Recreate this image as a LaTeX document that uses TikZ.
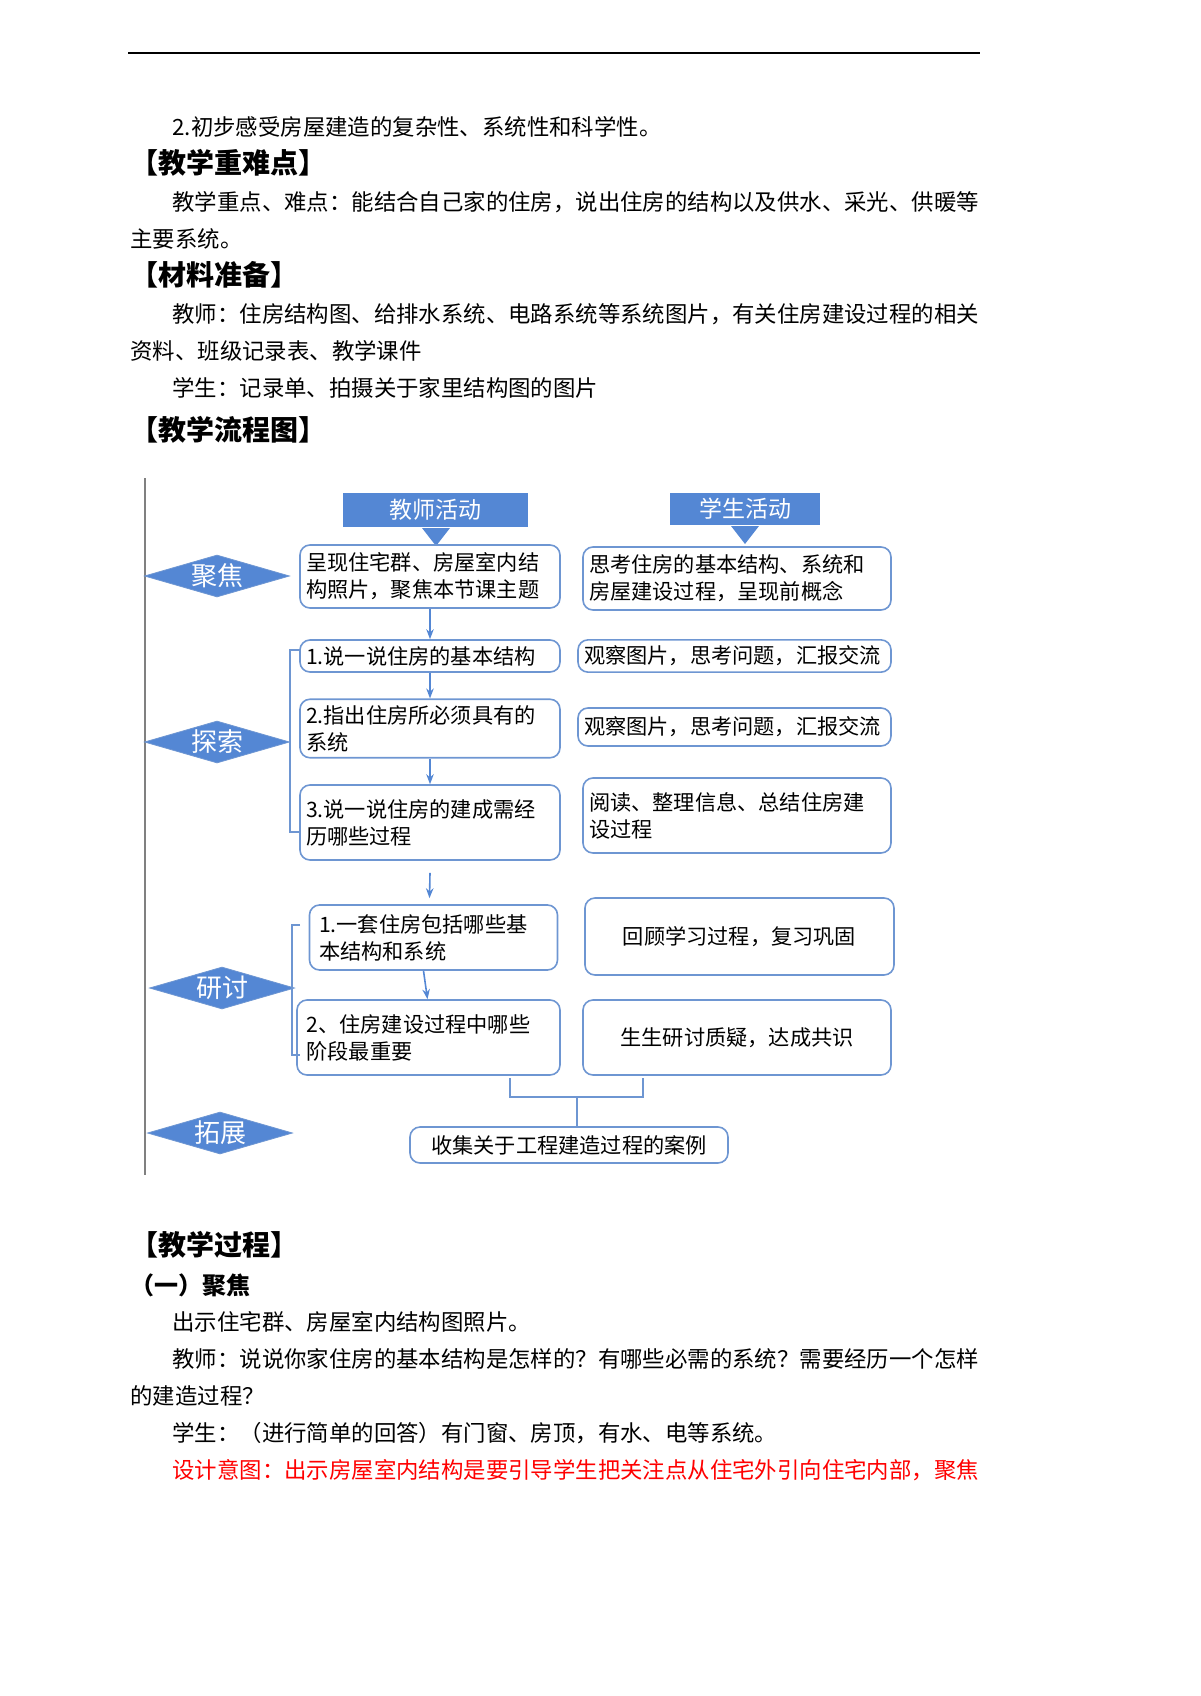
\documentclass[tikz,border=0pt]{standalone}
\usepackage{fontspec}
\setmainfont{Noto Sans CJK SC}
\usetikzlibrary{shapes.geometric,arrows.meta}
\definecolor{bblue}{RGB}{84,135,212}
\definecolor{lblue}{RGB}{110,150,210}
\begin{document}
\begin{tikzpicture}[x=0.5pt,y=-0.5pt,
    body/.style={anchor=west,inner sep=0pt,font=\fontsize{11.2}{13}\selectfont},
    head/.style={anchor=west,inner sep=0pt,font=\fontsize{14}{16}\selectfont\bfseries},
    box/.style={draw=lblue,thick,rounded corners=5pt,inner sep=3pt,align=left,
      font=\fontsize{10.6}{13.5}\selectfont},
    cbox/.style={box,align=center},
    tag/.style={fill=bblue,text=white,inner sep=0pt,font=\fontsize{11.5}{13}\selectfont},
    stage/.style={diamond,fill=bblue,draw=lblue,text=white,inner sep=0pt,aspect=3.4,
      minimum width=72.5pt,minimum height=21pt,font=\fontsize{13}{14}\selectfont},
    flow/.style={-{Stealth[length=5pt]},thick,bblue},
    brk/.style={thick,lblue}]
  \useasboundingbox (0,0) rectangle (1200,1696);
  % en-tête et texte
  \draw[thick] (128,53) -- (980,53);
  \node[body] (l1) at (172,127) {2.初步感受房屋建造的复杂性、系统性和科学性。};
  \node[head] (h1) at (130,163) {【教学重难点】};
  \node[body] (l2) at (172,202) {教学重点、难点：能结合自己家的住房，说出住房的结构以及供水、采光、供暖等};
  \node[body] (l3) at (130,239) {主要系统。};
  \node[head] (h2) at (130,275) {【材料准备】};
  \node[body] (l4) at (172,314) {教师：住房结构图、给排水系统、电路系统等系统图片，有关住房建设过程的相关};
  \node[body] (l5) at (130,351) {资料、班级记录表、教学课件};
  \node[body] (l6) at (172,388) {学生：记录单、拍摄关于家里结构图的图片};
  \node[head] (h3) at (130,430) {【教学流程图】};

  % axe vertical
  \draw[thick,gray] (145,478) -- (145,1175);

  % titres des colonnes
  \node[tag,minimum width=92.5pt,minimum height=17pt] (tt) at (435.5,510) {教师活动};
  \node[tag,minimum width=75pt,minimum height=16pt] (st) at (745,509) {学生活动};
  \fill[bblue] (422,528) -- (450,528) -- (436,546) -- cycle;
  \fill[bblue] (731,526) -- (759,526) -- (745,544) -- cycle;

  % étapes
  \node[stage] (d1) at (217,576) {聚焦};
  \node[stage] (d2) at (217,742) {探索};
  \node[stage] (d3) at (222,988) {研讨};
  \node[stage] (d4) at (220,1133) {拓展};

  % activités de l'enseignant
  \node[box,text width=124pt,minimum height=31.5pt] (t1) at (430,576.5) {呈现住宅群、房屋室内结\\构照片，聚焦本节课主题};
  \node[box,text width=124pt,minimum height=16pt] (t2) at (430,656) {1.说一说住房的基本结构};
  \node[box,text width=124pt,minimum height=28.5pt] (t3) at (430,728.5) {2.指出住房所必须具有的\\系统};
  \node[box,text width=124pt,minimum height=37.5pt] (t4) at (430,822.5) {3.说一说住房的建成需经\\历哪些过程};
  \node[box,text width=118pt,minimum height=32.5pt] (t5) at (433.5,937.5) {\,1.一套住房包括哪些基\\\,本结构和系统};
  \node[box,text width=125.5pt,minimum height=37.5pt] (t6) at (428.5,1037.5) {\,2、住房建设过程中哪些\\\,阶段最重要};
  \node[cbox,text width=153pt,minimum height=18pt] (t7) at (569,1145) {收集关于工程建造过程的案例};

  % activités des élèves
  \node[box,text width=148pt,minimum height=31.5pt] (s1) at (737,578.5) {思考住房的基本结构、系统和\\房屋建设过程，呈现前概念};
  \node[box,text width=150.5pt,minimum height=16pt] (s2) at (734.5,656) {观察图片，思考问题，汇报交流};
  \node[box,text width=150.5pt,minimum height=19pt] (s3) at (734.5,727) {观察图片，思考问题，汇报交流};
  \node[box,text width=148pt,minimum height=37.5pt] (s4) at (737,815.5) {阅读、整理信息、总结住房建\\设过程};
  \node[cbox,text width=148.5pt,minimum height=38.5pt] (s5) at (739.5,936.5) {回顾学习过程，复习巩固};
  \node[cbox,text width=148pt,minimum height=37.5pt] (s6) at (737,1037.5) {生生研讨质疑，达成共识};

  % flèches
  \draw[flow] (t1) -- (t2);
  \draw[flow] (t2) -- (t3);
  \draw[flow] (t3) -- (t4);
  \draw[flow] ([yshift=-6pt]t4.south) -- ([xshift=-2pt,yshift=3pt]t5.north);
  \draw[flow] ([xshift=-5pt]t5.south) -- ([xshift=-0.5pt]t6.north);

  % accolades
  \coordinate (bk) at (577,1097);
  \draw[brk] (300,650) -- (290,650) -- (290,832) -- (300,832);
  \draw[brk] (300,925) -- (292,925) -- (292,1055) -- (300,1055);
  \draw[brk] (510,1078) -- (510,1097) -- (643,1097) -- (643,1078);
  \draw[brk] (bk) -- (bk |- t7.north);

  % suite du texte
  \node[head] (h4) at (130,1245) {【教学过程】};
  \node[body,font=\fontsize{12}{14}\selectfont\bfseries] (h5) at (130,1285) {（一）聚焦};
  \node[body] (l7) at (172,1322) {出示住宅群、房屋室内结构图照片。};
  \node[body] (l8) at (172,1359) {教师：说说你家住房的基本结构是怎样的？有哪些必需的系统？需要经历一个怎样};
  \node[body] (l9) at (130,1396) {的建造过程？};
  \node[body] (l10) at (172,1433) {学生：（进行简单的回答）有门窗、房顶，有水、电等系统。};
  \node[body,text=red] (l11) at (172,1470) {设计意图：出示房屋室内结构是要引导学生把关注点从住宅外引向住宅内部，聚焦};
\end{tikzpicture}
\end{document}
